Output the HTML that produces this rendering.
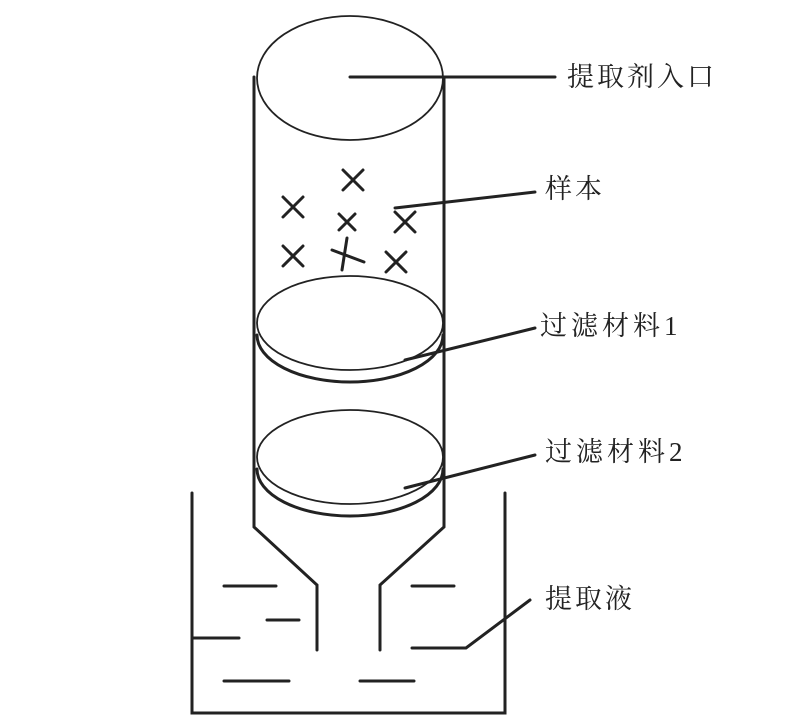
<!DOCTYPE html>
<html><head><meta charset="utf-8"><style>
html,body{margin:0;padding:0;background:#fff;}
svg{display:block;}
text{font-family:"Liberation Serif","Noto Serif CJK SC",serif;font-size:27px;fill:#222;}
</style></head><body>
<svg width="797" height="719" viewBox="0 0 797 719" xmlns="http://www.w3.org/2000/svg">
<g fill="none" stroke="#222" stroke-width="3" stroke-linecap="round">
<ellipse cx="350" cy="78" rx="93" ry="62" stroke-width="1.8"/>
<polyline points="254,77 254,527 317,585 317,650"/>
<polyline points="444,77 444,527 380,585 380,650"/>
<ellipse cx="350" cy="323" rx="93" ry="47" stroke-width="1.8"/>
<path d="M257,335 A93,47 0 0 0 443,335"/>
<ellipse cx="350" cy="457" rx="93" ry="47" stroke-width="1.8"/>
<path d="M257,469 A93,47 0 0 0 443,469"/>
<polyline points="192,493 192,713 505,713 505,493"/>
<line x1="224" y1="586" x2="276" y2="586"/>
<line x1="267" y1="620" x2="299" y2="620"/>
<line x1="192" y1="638" x2="239" y2="638"/>
<line x1="224" y1="681" x2="289" y2="681"/>
<line x1="412" y1="586" x2="454" y2="586"/>
<line x1="360" y1="681" x2="414" y2="681"/>
<polyline points="412,648 466,648 530,600"/>
<path d="M343,170 L363,190 M363,170 L343,190"/>
<path d="M283,197 L303,217 M303,197 L283,217"/>
<path d="M339,214 L355,230 M355,214 L339,230"/>
<path d="M395,212 L415,232 M415,212 L395,232"/>
<path d="M283,246 L303,266 M303,246 L283,266"/>
<path d="M347,238 L342,270 M332,250 L364,262"/>
<path d="M386,252 L406,272 M406,252 L386,272"/>
<line x1="350" y1="77" x2="555" y2="77"/>
<line x1="395" y1="208" x2="535" y2="192"/>
<line x1="405" y1="360" x2="535" y2="328"/>
<line x1="405" y1="488" x2="535" y2="455"/>
</g>
<text x="567" y="86" letter-spacing="3">提取剂入口</text>
<text x="545" y="198" letter-spacing="3">样本</text>
<text x="540" y="335" letter-spacing="4">过滤材料1</text>
<text x="545" y="461" letter-spacing="4">过滤材料2</text>
<text x="545" y="608" letter-spacing="3">提取液</text>
</svg>
</body></html>
